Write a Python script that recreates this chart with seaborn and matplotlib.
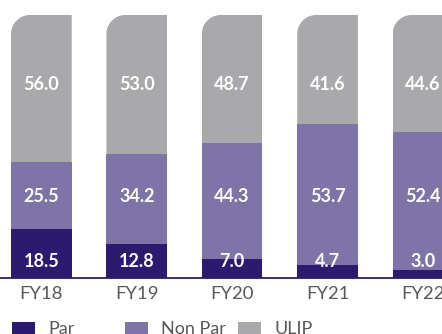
import matplotlib
matplotlib.use("Agg")
import matplotlib.pyplot as plt
from matplotlib.path import Path
import pandas as pd
import seaborn as sns

# Business mix by product line (% of total), by fiscal year
years = ["FY18", "FY19", "FY20", "FY21", "FY22"]
par = [18.5, 12.8, 7.0, 4.7, 3.0]
non_par = [25.5, 34.2, 44.3, 53.7, 52.4]
ulip = [56.0, 53.0, 48.7, 41.6, 44.6]
series_names = ["Par", "Non Par", "ULIP"]

PAR_C = "#2c1a6e"
NONPAR_C = "#7e74a8"
ULIP_C = "#a9a9ab"
TICK_C = "#585858"

sns.set_theme(style="white")
plt.rcParams["font.family"] = ["Lato", "DejaVu Sans"]

df = pd.DataFrame({"year": years, "Par": par, "Non Par": non_par, "ULIP": ulip})
df["par_np"] = df["Par"] + df["Non Par"]
df["total"] = df["par_np"] + df["ULIP"]

fig = plt.figure(figsize=(4.42, 3.34), dpi=100)
ax = fig.add_axes([0, 0.1686, 1, 0.7865])

W = 0.636
common = dict(x="year", width=W, saturation=1, linewidth=0, ax=ax)
# stacked bars: full total first, then the cumulative lower segments on top
sns.barplot(data=df, y="total", color=ULIP_C, label="ULIP", **common)
sns.barplot(data=df, y="par_np", color=NONPAR_C, label="Non Par", **common)
sns.barplot(data=df, y="Par", color=PAR_C, label="Par", **common)
if ax.get_legend() is not None:
    ax.get_legend().remove()

ax.set_xlim(-0.4334, 4.1997)
ax.set_ylim(0, 100)

# round the top-left corner of each full-height bar
rx, ry = 0.199, 7.2
k = 0.5523
for p in ax.containers[0]:
    x0, w, top = p.get_x(), p.get_width(), p.get_height()
    x1 = x0 + w
    verts = [
        (x0, -5), (x1, -5), (x1, top), (x0 + rx, top),
        (x0 + rx - k * rx, top), (x0, top - ry + k * ry), (x0, top - ry),
        (x0, -5), (x0, -5),
    ]
    codes = [Path.MOVETO, Path.LINETO, Path.LINETO, Path.LINETO,
             Path.CURVE4, Path.CURVE4, Path.CURVE4,
             Path.LINETO, Path.CLOSEPOLY]
    p.set_clip_path(Path(verts, codes), ax.transData)

# value labels sit on fixed rows inside each segment
label_rows = {"ULIP": 73.5, "Non Par": 31.0, "Par": 6.3}
for name in series_names:
    for i, v in enumerate(df[name]):
        ax.text(i, label_rows[name], f"{v:.1f}", ha="center", va="center",
                color="white", fontsize=13, fontweight="bold")

ax.axhline(0, color=PAR_C, lw=1.3, zorder=5, clip_on=False)

for s in ax.spines.values():
    s.set_visible(False)
ax.set_xlabel("")
ax.set_ylabel("")
ax.set_yticks([])
ax.tick_params(axis="x", length=0, pad=6, labelsize=13.3, labelcolor=TICK_C)

handles, labels = ax.get_legend_handles_labels()
hmap = dict(zip(labels, handles))
legend_x = {"Par": 0.0271, "Non Par": 0.2828, "ULIP": 0.5385}
for name in series_names:
    leg = fig.legend([hmap[name]], [name], loc="center left",
                     bbox_to_anchor=(legend_x[name], 0.0135),
                     frameon=False, borderpad=0, borderaxespad=0,
                     handlelength=1.3, handleheight=0.6, handletextpad=0.72,
                     fontsize=13)
    for t in leg.get_texts():
        t.set_color(TICK_C)

fig.savefig("out.png", dpi=100)
